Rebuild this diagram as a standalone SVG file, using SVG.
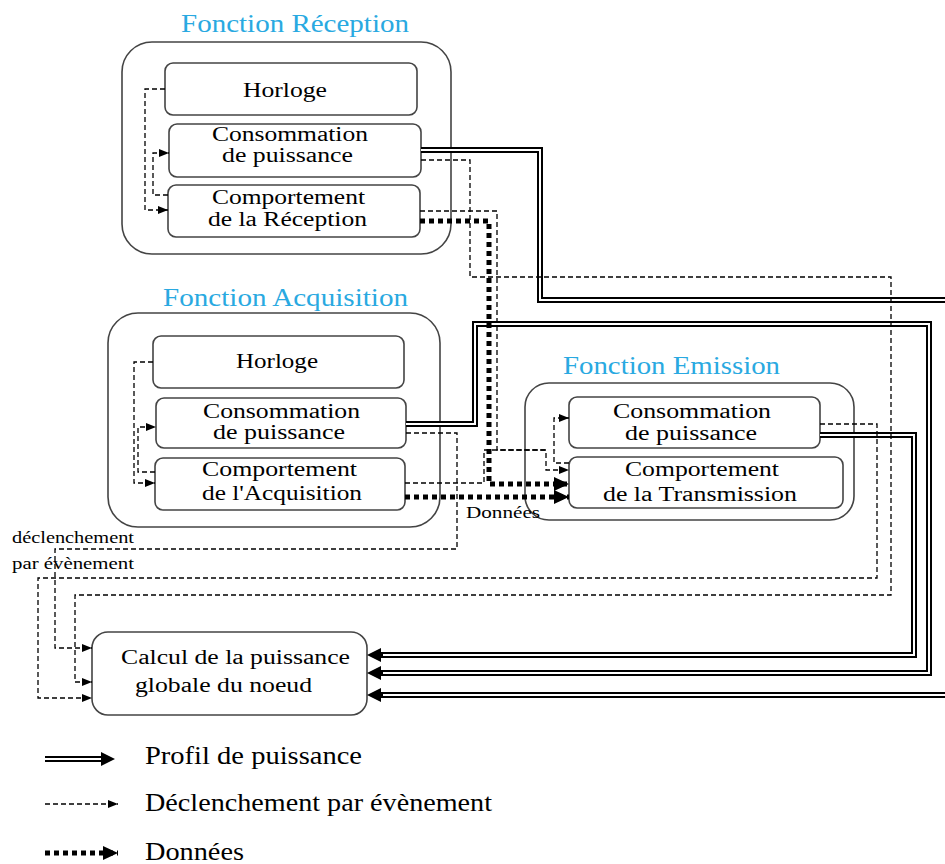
<svg xmlns="http://www.w3.org/2000/svg" width="945" height="864" viewBox="0 0 945 864">
<style>
text{font-family:"Liberation Serif","Times New Roman",serif;fill:#000;}
.t{font-size:20px;}
.ttl{font-size:26px;fill:#29a9e1;}
.lg{font-size:25px;}
.sm{font-size:16px;}
.outer{fill:#fff;stroke:#444;stroke-width:1.6;}
.inner{fill:#fff;stroke:#444;stroke-width:1.6;}
.pw{fill:none;stroke:#000;stroke-width:6;stroke-linejoin:miter;}
.pwi{fill:none;stroke:#fff;stroke-width:2;stroke-linejoin:miter;}
.tr{fill:none;stroke:#000;stroke-width:1.3;stroke-dasharray:5 3;}
.dt{fill:none;stroke:#000;stroke-width:5;stroke-dasharray:5 4;}
</style>
<defs>
<marker id="ahT" viewBox="0 0 10 8" refX="10" refY="4" markerWidth="10" markerHeight="8" markerUnits="userSpaceOnUse" orient="auto"><path d="M0,0 L10,4 L0,8 z" fill="#000"/></marker>
<marker id="ahP" viewBox="0 0 14 14" refX="0" refY="7" markerWidth="14" markerHeight="14" markerUnits="userSpaceOnUse" orient="auto"><path d="M0,0 L14,7 L0,14 z" fill="#000"/></marker>
<marker id="ahD" viewBox="0 0 15 14" refX="15" refY="7" markerWidth="15" markerHeight="14" markerUnits="userSpaceOnUse" orient="auto"><path d="M0,0 L15,7 L0,14 z" fill="#000"/></marker>
</defs>
<rect width="945" height="864" fill="#fff"/>

<!-- Reception -->
<g id="fonction-reception">
<text class="ttl" x="181" y="32" textLength="228" lengthAdjust="spacingAndGlyphs">Fonction Réception</text>
<rect class="outer" x="122" y="42" width="329" height="212" rx="30"/>
</g>
<g id="reception-horloge">
<rect class="inner" x="165" y="63" width="252" height="52" rx="8"/>
<text class="t" x="243" y="97" textLength="84" lengthAdjust="spacingAndGlyphs">Horloge</text>
</g>
<g id="reception-consommation">
<rect class="inner" x="169" y="124" width="252" height="53" rx="8"/>
<text class="t" x="212" y="141" textLength="156" lengthAdjust="spacingAndGlyphs">Consommation</text>
<text class="t" x="222" y="162" textLength="131" lengthAdjust="spacingAndGlyphs">de puissance</text>
</g>
<g id="reception-comportement">
<rect class="inner" x="168" y="185" width="252" height="52" rx="8"/>
<text class="t" x="212" y="204" textLength="153" lengthAdjust="spacingAndGlyphs">Comportement</text>
<text class="t" x="208" y="226" textLength="159" lengthAdjust="spacingAndGlyphs">de la Réception</text>
</g>

<!-- Acquisition -->
<g id="fonction-acquisition">
<text class="ttl" x="163" y="306" textLength="245" lengthAdjust="spacingAndGlyphs">Fonction Acquisition</text>
<rect class="outer" x="108" y="313" width="332" height="214" rx="30"/>
</g>
<g id="acquisition-horloge">
<rect class="inner" x="153" y="336" width="251" height="52" rx="8"/>
<text class="t" x="236" y="368" textLength="82" lengthAdjust="spacingAndGlyphs">Horloge</text>
</g>
<g id="acquisition-consommation">
<rect class="inner" x="156" y="398" width="250" height="50" rx="8"/>
<text class="t" x="203" y="418" textLength="157" lengthAdjust="spacingAndGlyphs">Consommation</text>
<text class="t" x="213" y="439" textLength="132" lengthAdjust="spacingAndGlyphs">de puissance</text>
</g>
<g id="acquisition-comportement">
<rect class="inner" x="155" y="458" width="250" height="52" rx="8"/>
<text class="t" x="202" y="476" textLength="155" lengthAdjust="spacingAndGlyphs">Comportement</text>
<text class="t" x="202" y="500" textLength="160" lengthAdjust="spacingAndGlyphs">de l'Acquisition</text>
</g>

<!-- Emission -->
<g id="fonction-emission">
<text class="ttl" x="563" y="374" textLength="217" lengthAdjust="spacingAndGlyphs">Fonction Emission</text>
<rect class="outer" x="525" y="383" width="329" height="137" rx="24"/>
</g>
<g id="emission-consommation">
<rect class="inner" x="569" y="397" width="251" height="51" rx="8"/>
<text class="t" x="613" y="418" textLength="158" lengthAdjust="spacingAndGlyphs">Consommation</text>
<text class="t" x="625" y="440" textLength="132" lengthAdjust="spacingAndGlyphs">de puissance</text>
</g>
<g id="emission-comportement">
<rect class="inner" x="569" y="457" width="274" height="51" rx="8"/>
<text class="t" x="625" y="476" textLength="154" lengthAdjust="spacingAndGlyphs">Comportement</text>
<text class="t" x="603" y="501" textLength="194" lengthAdjust="spacingAndGlyphs">de la Transmission</text>
</g>

<!-- Calcul -->
<g id="calcul">
<rect class="inner" x="92" y="632" width="275" height="83" rx="16"/>
<text class="t" x="121" y="664" textLength="229" lengthAdjust="spacingAndGlyphs">Calcul de la puissance</text>
<text class="t" x="135" y="692" textLength="177" lengthAdjust="spacingAndGlyphs">globale du noeud</text>
</g>

<g id="connectors">
<!-- power profiles -->
<path class="pw" d="M421,150 H540 V300 H945"/>
<path class="pwi" d="M421,150 H540 V300 H945"/>
<path class="pw" d="M945,695 H381" marker-end="url(#ahP)"/>
<path class="pwi" d="M945,695 H383"/>
<path class="pw" d="M406,424 H475 V324 H929 V673 H381" marker-end="url(#ahP)"/>
<path class="pwi" d="M406,424 H475 V324 H929 V673 H383"/>
<path class="pw" d="M820,435 H914 V655 H381" marker-end="url(#ahP)"/>
<path class="pwi" d="M820,435 H914 V655 H383"/>

<!-- event triggers -->
<path class="tr" d="M165,89 H145 V210 H168" marker-end="url(#ahT)"/>
<path class="tr" d="M168,195 H153 V153 H169" marker-end="url(#ahT)"/>
<path class="tr" d="M421,160 H470 V277 H891 V595 H75 V682 H92" marker-end="url(#ahT)"/>
<path class="tr" d="M420,211 H497 V450 H546 V470 H569" marker-end="url(#ahT)"/>
<path class="tr" d="M153,362 H134 V483 H155" marker-end="url(#ahT)"/>
<path class="tr" d="M155,472 H138 V427 H156" marker-end="url(#ahT)"/>
<path class="tr" d="M406,433 H457 V549 H55 V648 H92" marker-end="url(#ahT)"/>
<path class="tr" d="M405,483 H484 V450 H546"/>
<path class="tr" d="M569,463 H554 V418 H569" marker-end="url(#ahT)"/>
<path class="tr" d="M820,424 H877 V578 H38 V698 H92" marker-end="url(#ahT)"/>

<!-- data -->
<path class="dt" d="M420,221 H489 V484 H569" marker-end="url(#ahD)"/>
<path class="dt" d="M405,497 H569" marker-end="url(#ahD)"/>
<text class="sm" x="466" y="518" textLength="74" lengthAdjust="spacingAndGlyphs">Données</text>
<text class="sm" x="12" y="543" textLength="122" lengthAdjust="spacingAndGlyphs">déclenchement</text>
<text class="sm" x="12" y="569" textLength="122" lengthAdjust="spacingAndGlyphs">par évènement</text>
</g>

<!-- legend -->
<g id="legend">
<path class="pw" d="M45,759 H101" marker-end="url(#ahP)"/>
<path class="pwi" d="M45,759 H101"/>
<text class="lg" x="145" y="764" textLength="217" lengthAdjust="spacingAndGlyphs">Profil de puissance</text>
<path class="tr" d="M45,804 H118" marker-end="url(#ahT)"/>
<text class="lg" x="145" y="811" textLength="347" lengthAdjust="spacingAndGlyphs">Déclenchement par évènement</text>
<path class="dt" d="M45,853 H118" marker-end="url(#ahD)"/>
<text class="lg" x="145" y="860" textLength="99" lengthAdjust="spacingAndGlyphs">Données</text>
</g>
</svg>
